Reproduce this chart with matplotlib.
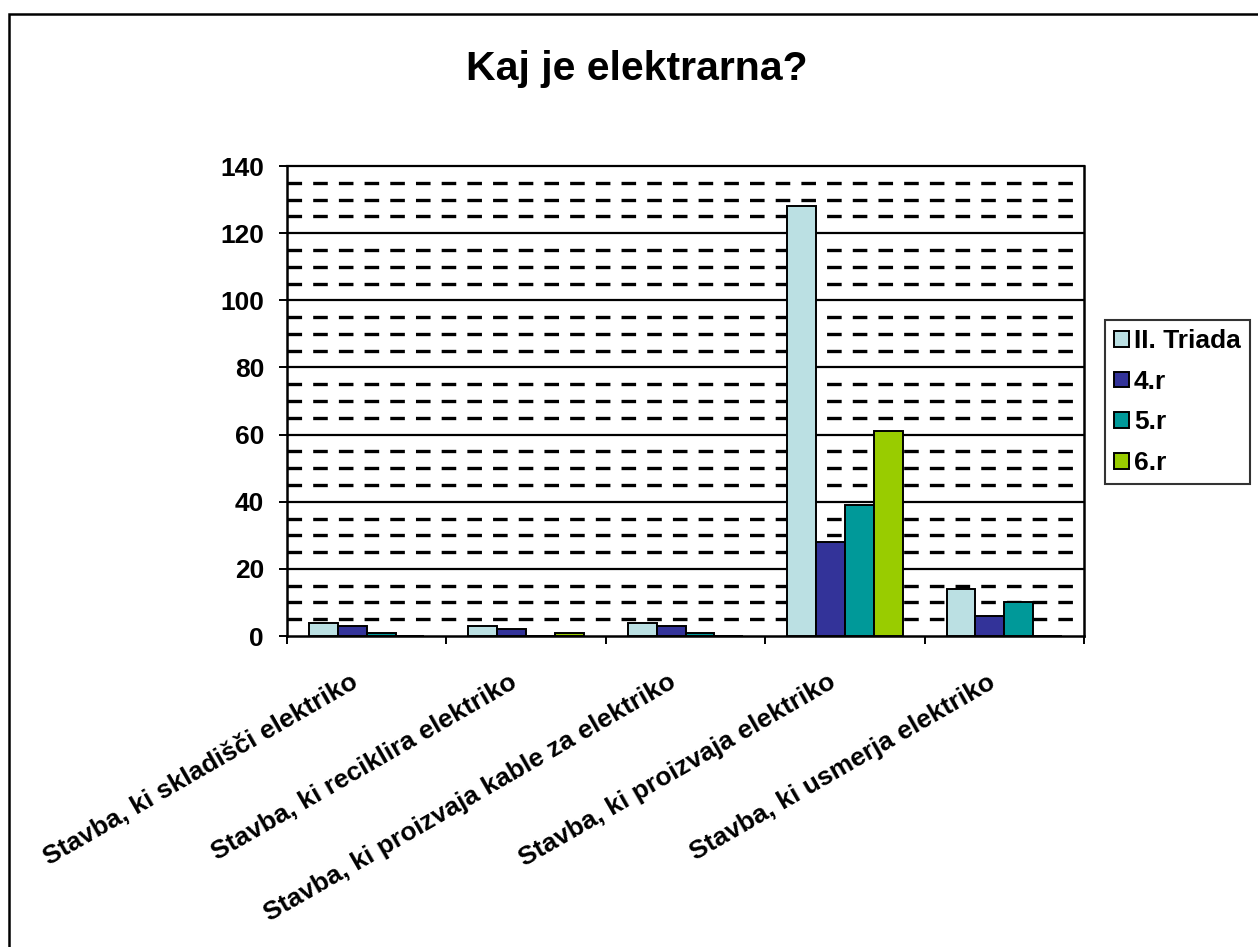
import matplotlib
matplotlib.use("Agg")
import matplotlib.pyplot as plt
import numpy as np
from matplotlib.patches import Rectangle, Patch
from matplotlib.ticker import FixedLocator, NullFormatter
from matplotlib.transforms import ScaledTranslation

plt.rcParams['font.family'] = ['Liberation Sans', 'DejaVu Sans']
plt.rcParams['font.weight'] = 'bold'
plt.rcParams['lines.scale_dashes'] = False

categories = [
    "Stavba, ki skladišči elektriko",
    "Stavba, ki reciklira elektriko",
    "Stavba, ki proizvaja kable za elektriko",
    "Stavba, ki proizvaja elektriko",
    "Stavba, ki usmerja elektriko",
]
series_names = ["II. Triada", "4.r", "5.r", "6.r"]
triada = [4, 3, 4, 128, 14]
razred4 = [3, 2, 3, 28, 6]
razred5 = [1, 0, 1, 39, 10]
razred6 = [0, 1, 0, 61, 0]
colors = ["#BBE0E3", "#333399", "#009999", "#99CC00"]
y_ticks = [0, 20, 40, 60, 80, 100, 120, 140]

W, H = 1258, 947
fig = plt.figure(figsize=(W / 100, H / 100), dpi=100)
ax = fig.add_axes([287 / W, 1 - 636 / H, (1084 - 287) / W, (636 - 166) / H])

series = [triada, razred4, razred5, razred6]
x = np.arange(len(categories))
bw = 0.1813
for i, (vals, col, name) in enumerate(zip(series, colors, series_names)):
    ax.bar(x + (i - 1.5) * bw, vals, width=bw, color=col, edgecolor="black",
           linewidth=1.4, label=name, zorder=3)

ax.set_xlim(-0.5, len(categories) - 0.5)
ax.set_ylim(0, 140)

# solid major grid every 20, dashed minor grid every 5
for v in np.arange(5, 140, 5):
    if v % 20 == 0:
        ax.axhline(v, color="black", linewidth=1.6, zorder=1)
    else:
        ax.axhline(v, color="black", linewidth=2.4,
                   linestyle=(0, (10.5, 8.0)), zorder=1)
ax.axhline(140, color="black", linewidth=1.6, zorder=1, clip_on=False)

ax.yaxis.set_major_locator(FixedLocator(y_ticks))
ax.set_yticklabels([str(t) for t in y_ticks], fontsize=19, fontweight="bold")
ax.tick_params(axis="y", direction="out", length=5.5, width=1.4, pad=11)

# category ticks sit on group boundaries, labels at group centres
ax.xaxis.set_major_locator(FixedLocator(np.arange(-0.5, len(categories), 1.0)))
ax.xaxis.set_major_formatter(NullFormatter())
ax.tick_params(axis="x", which="major", direction="out", length=6, width=1.4)
ax.set_xticks(x, minor=True)
ax.set_xticklabels(categories, minor=True, rotation=30, ha="right",
                   va="center", rotation_mode="anchor", fontsize=19,
                   fontweight="bold")
ax.tick_params(axis="x", which="minor", length=0, pad=32)
shift = ScaledTranslation(-11 / 100, 0, fig.dpi_scale_trans)
for lbl in ax.get_xticklabels(minor=True):
    lbl.set_transform(lbl.get_transform() + shift)

for s in ["left", "right", "bottom"]:
    ax.spines[s].set_linewidth(1.8)
    ax.spines[s].set_color("black")
ax.spines["top"].set_visible(False)

fig.text(637 / W, 1 - 80 / H, "Kaj je elektrarna?", ha="center",
         va="baseline", fontsize=29.5, fontweight="bold")

handles = [Patch(facecolor=c, edgecolor="black", linewidth=1.4) for c in colors]
leg = fig.legend(handles, series_names, loc="upper left",
                 bbox_to_anchor=(1105 / W, 1 - 320 / H), borderaxespad=0,
                 frameon=True, fancybox=False,
                 handlelength=0.55, handleheight=0.55, handletextpad=0.2,
                 labelspacing=0.63, borderpad=0.35,
                 prop={"weight": "bold", "size": 19})
leg.get_frame().set_edgecolor("black")
leg.get_frame().set_linewidth(1.5)

# outer chart frame
fig.patches.append(Rectangle((9 / W, -0.1), 1.2, 1 - 14 / H + 0.1,
                             transform=fig.transFigure, fill=False,
                             edgecolor="black", linewidth=1.8))

fig.savefig("out.png", dpi=100)
